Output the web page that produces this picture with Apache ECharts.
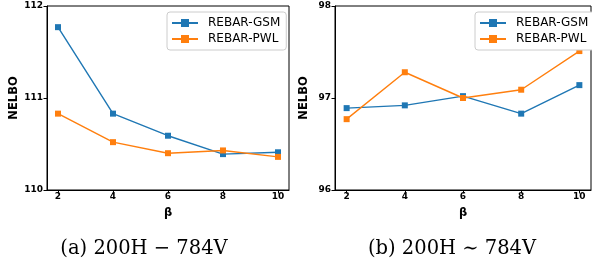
<!DOCTYPE html>
<html><head><meta charset="utf-8">
<script src="https://cdn.jsdelivr.net/npm/echarts@6/dist/echarts.min.js"></script>
<style>html,body{margin:0;padding:0;background:#fff}#c{width:592px;height:264px}</style>
</head><body><div id="c"></div>
<script>
const betas = [2, 4, 6, 8, 10];
const gsmA = [111.77, 110.83, 110.59, 110.39, 110.41];
const pwlA = [110.83, 110.52, 110.40, 110.43, 110.36];
const gsmB = [96.89, 96.92, 97.02, 96.83, 97.14];
const pwlB = [96.77, 97.28, 97.00, 97.09, 97.51];
const yTicksA = [110, 111, 112];
const yTicksB = [96, 97, 98];
const seriesNames = ['REBAR-GSM', 'REBAR-PWL'];
const captions = ['(a) 200H \u2212 784V', '(b) 200H \u223C 784V'];
const colors = ['#1f77b4', '#ff7f0e'];

const chart = echarts.init(document.getElementById('c'), null, {renderer: 'canvas'});
const tickFont = {fontFamily: 'DejaVu Sans', fontWeight: 'bold', fontSize: 9, color: '#000'};
function xAxis(gi) {
  return {
    type: 'value', gridIndex: gi, min: 1.6, max: 10.4,
    name: '\u03B2', nameLocation: 'middle', nameGap: 17,
    nameTextStyle: {fontFamily: 'DejaVu Sans', fontWeight: 'bold', fontSize: 11.5, color: '#000'},
    axisLine: {show: true, onZero: false, lineStyle: {color: '#000', width: 1}},
    axisTick: {show: true, length: 3.5, lineStyle: {color: '#000'}, customValues: betas},
    axisLabel: Object.assign({margin: 2, customValues: betas, formatter: v => String(v)}, tickFont),
    splitLine: {show: false}
  };
}
function yAxis(gi, ticks) {
  return {
    type: 'value', gridIndex: gi, min: ticks[0], max: ticks[ticks.length - 1], interval: 1,
    name: 'NELBO', nameLocation: 'middle', nameGap: 25, nameRotate: 90,
    nameTextStyle: {fontFamily: 'DejaVu Sans', fontWeight: 'bold', fontSize: 11.5, color: '#000'},
    axisLine: {show: true, lineStyle: {color: '#000', width: 1}},
    axisTick: {show: true, length: 3.5, lineStyle: {color: '#000'}},
    axisLabel: Object.assign({margin: 4}, tickFont),
    splitLine: {show: false}
  };
}
function line(name, gi, vals, ci) {
  return {
    type: 'line', name: name, xAxisIndex: gi, yAxisIndex: gi,
    data: betas.map((b, i) => [b, vals[i]]),
    symbol: 'rect', symbolSize: 6,
    lineStyle: {color: colors[ci], width: 1.4},
    itemStyle: {color: colors[ci]},
    animation: false
  };
}
function legend(left) {
  return {
    data: seriesNames.map(n => ({name: n})),
    left: left, top: 12, orient: 'vertical',
    padding: [5, 6, 5, 4], itemGap: 4, itemWidth: 26, itemHeight: 10,
    borderColor: '#ccc', borderWidth: 1, borderRadius: 3, backgroundColor: '#fff',
    textStyle: {fontFamily: 'DejaVu Sans', fontSize: 12, color: '#000', padding: [0, 0, 0, 5]},
    selectedMode: false
  };
}
chart.setOption({
  animation: false,
  grid: [
    {left: 47, top: 6, width: 242, height: 184, show: true, borderColor: '#000', borderWidth: 1},
    {left: 335, top: 6, width: 256, height: 184, show: true, borderColor: '#000', borderWidth: 1}
  ],
  xAxis: [xAxis(0), xAxis(1)],
  yAxis: [yAxis(0, yTicksA), yAxis(1, yTicksB)],
  legend: [legend(167), legend(475)],
  series: [
    line(seriesNames[0], 0, gsmA, 0),
    line(seriesNames[1], 0, pwlA, 1),
    line(seriesNames[0], 1, gsmB, 0),
    line(seriesNames[1], 1, pwlB, 1)
  ],
  graphic: [
    {type: 'text', x: 144, y: 249, style: {text: captions[0], fontFamily: 'DejaVu Serif', fontSize: 19.5, fill: '#000', align: 'center', verticalAlign: 'middle'}},
    {type: 'text', x: 452, y: 249, style: {text: captions[1], fontFamily: 'DejaVu Serif', fontSize: 19.5, fill: '#000', align: 'center', verticalAlign: 'middle'}}
  ]
});
</script></body></html>
